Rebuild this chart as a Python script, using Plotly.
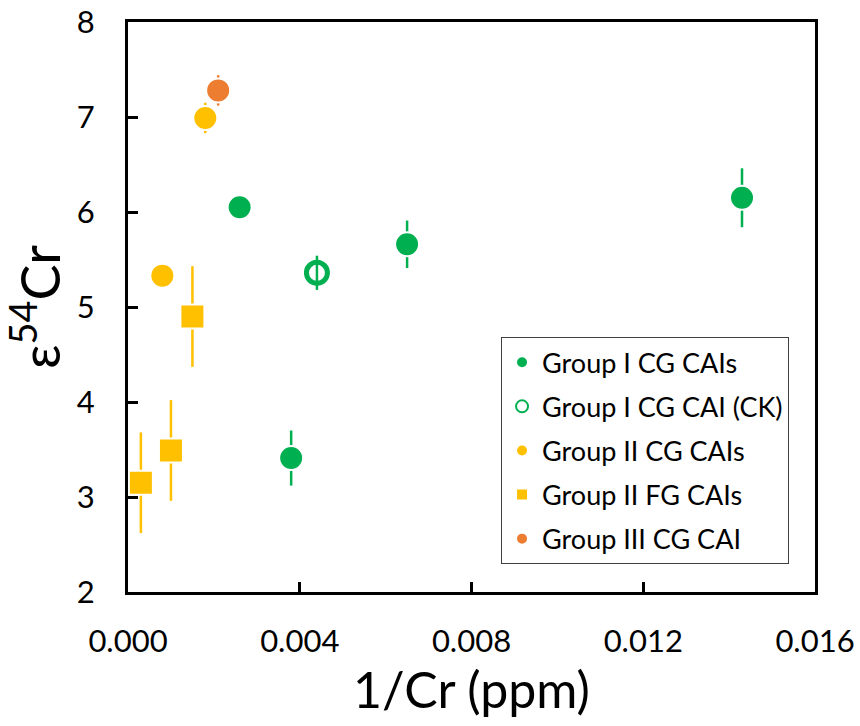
import plotly.graph_objects as go

# Data
g1_x = [0.0026, 0.0065, 0.0143, 0.0038]
g1_y = [6.05, 5.66, 6.15, 3.41]
g1_e = [0.10, 0.25, 0.31, 0.29]

g1ck_x = [0.0044]
g1ck_y = [5.36]
g1ck_e = [0.18]

g2cg_x = [0.0018, 0.0008]
g2cg_y = [6.99, 5.33]
g2cg_e = [0.16, 0.10]

g2fg_x = [0.0015, 0.0010, 0.0003]
g2fg_y = [4.90, 3.49, 3.15]
g2fg_e = [0.53, 0.53, 0.53]

g3_x = [0.0021]
g3_y = [7.28]
g3_e = [0.16]

GREEN = "#00B050"
YELLOW = "#FFC000"
ORANGE = "#ED7D31"
FONT = "Lato"

fig = go.Figure()

def add(x, y, e, name, color, symbol, size, lw, lc, grp):
    fig.add_trace(go.Scatter(
        x=x, y=y, mode="markers", name=name, legendgroup=grp,
        error_y=dict(type="data", array=e, visible=True, color=color,
                     thickness=2.5, width=0),
        marker=dict(symbol=symbol, size=size, color=color,
                    line=dict(color=lc, width=lw)),
    ))

add(g1_x, g1_y, g1_e, "Group I CG CAIs", GREEN, "circle", 24, 2, "white", "a")
add(g1ck_x, g1ck_y, g1ck_e, "Group I CG CAI (CK)", GREEN, "circle-open", 21, 5, GREEN, "b")
add(g2cg_x, g2cg_y, g2cg_e, "Group II CG CAIs", YELLOW, "circle", 24, 2, "white", "c")
add(g2fg_x, g2fg_y, g2fg_e, "Group II FG CAIs", YELLOW, "square", 24, 2, "white", "d")
add(g3_x, g3_y, g3_e, "Group III CG CAI", ORANGE, "circle", 24, 2, "white", "e")

axis_common = dict(
    showline=True, linecolor="black", linewidth=3, mirror=True,
    ticks="inside", ticklen=10, tickwidth=2.5, tickcolor="black",
    showgrid=False, zeroline=False, automargin=False,
    tickfont=dict(family=FONT, size=31, color="black"),
)

fig.update_layout(
    width=860, height=726,
    margin=dict(l=128, r=45, t=22, b=134),
    paper_bgcolor="white", plot_bgcolor="white",
    font=dict(family=FONT, color="black"),
    xaxis=dict(range=[0, 0.016], dtick=0.004, tick0=0, tickformat=".3f",
               title=dict(text="1/Cr (ppm)", font=dict(family=FONT, size=50), standoff=10),
               ticklabelstandoff=20, **axis_common),
    yaxis=dict(range=[2, 8], dtick=1, tick0=2,
               title=dict(text="ε<sup>54</sup>Cr", font=dict(family=FONT, size=54), standoff=14),
               ticklabelstandoff=24, **axis_common),
    legend=dict(x=0.543, y=0.447, xanchor="left", yanchor="top",
                bgcolor="white", bordercolor="#404040", borderwidth=1,
                font=dict(family=FONT, size=27, color="black"),
                traceorder="grouped", tracegroupgap=6, itemsizing="constant"),
    showlegend=True,
)

fig.write_html("out.html")
